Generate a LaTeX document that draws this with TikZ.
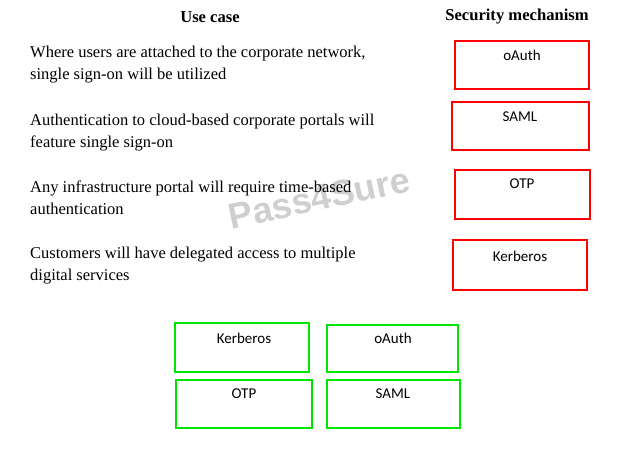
\documentclass[tikz,border=0pt]{standalone}
\usepackage{fontspec}
\setmainfont{Liberation Serif}
\newfontfamily\boxfont{Carlito}
\newfontfamily\wmfont{Liberation Sans}
\begin{document}
\begin{tikzpicture}[x=1pt,y=-1pt,
  redbox/.style={draw=red,line width=1.6pt},
  greenbox/.style={draw=green!90!black,line width=2.4pt},
  boxlabel/.style={font=\boxfont\fontsize{15}{17}\selectfont,anchor=center},
  usetext/.style={font=\fontsize{16.5}{22}\selectfont,anchor=north west,align=left,inner sep=0pt},
  head/.style={font=\bfseries\fontsize{16.6}{19}\selectfont,anchor=center}]
\useasboundingbox (0,0) rectangle (630,448);
\fill[white] (0,0) rectangle (630,448);
% watermark
\node[font=\wmfont\bfseries\fontsize{36}{38}\selectfont,text=black!19,rotate=12] (wm) at (319,198) {Pass4Sure};
% headers
\node[head] (h1) at (210,17) {Use case};
\node[head] (h2) at (517,17) {Security mechanism};
% use cases
\node[usetext] (u1) at (30,46) {Where users are attached to the corporate network,\\single sign-on will be utilized};
\node[usetext] (u2) at (30,114) {Authentication to cloud-based corporate portals will\\feature single sign-on};
\node[usetext] (u3) at (30,181) {Any infrastructure portal will require time-based\\authentication};
\node[usetext] (u4) at (30,247) {Customers will have delegated access to multiple\\digital services};
% security mechanism boxes
\draw[redbox] (455,41) rectangle (589,89);
\node[boxlabel] (s1) at (522,55) {oAuth};
\draw[redbox] (452,102) rectangle (589,150);
\node[boxlabel] (s2) at (520,117) {SAML};
\draw[redbox] (455,170) rectangle (590,219);
\node[boxlabel] (s3) at (522,184) {OTP};
\draw[redbox] (453,240) rectangle (587,290);
\node[boxlabel] (s4) at (520,256) {Kerberos};
% answer boxes
\draw[greenbox] (175,323) rectangle (309,372);
\node[boxlabel] (a1) at (244,338) {Kerberos};
\draw[greenbox] (327,325) rectangle (458,372);
\node[boxlabel] (a2) at (393,338) {oAuth};
\draw[greenbox] (176,380) rectangle (312,428);
\node[boxlabel] (a3) at (244,394) {OTP};
\draw[greenbox] (327,380) rectangle (460,428);
\node[boxlabel] (a4) at (393,394) {SAML};
\end{tikzpicture}
\end{document}
